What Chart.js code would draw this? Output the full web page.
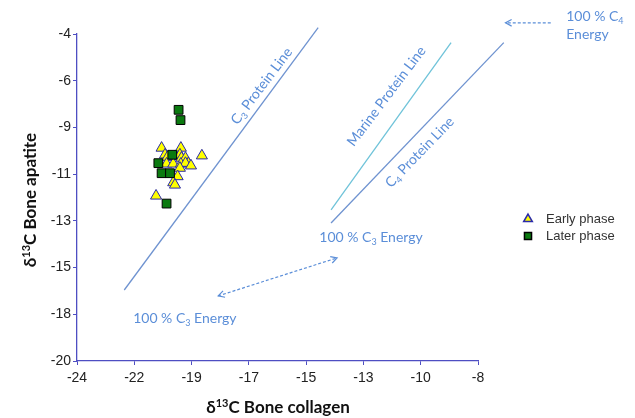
<!DOCTYPE html>
<html>
<head>
<meta charset="utf-8">
<script src="https://cdn.jsdelivr.net/npm/chart.js@4.4.1/dist/chart.umd.min.js"></script>
<style>
  html, body { margin: 0; padding: 0; background: #ffffff; }
  #wrap { width: 635px; height: 418px; }
</style>
</head>
<body>
<div id="wrap"><canvas id="chart" width="635" height="418"></canvas></div>
<script>
// Axis tick labels (the axes are evenly spaced between these labels)
const xTickLabels = [-24, -22, -19, -17, -15, -13, -10, -8];
const yTickLabels = [-20, -18, -15, -13, -11, -9, -6, -4];

// Early phase samples: δ13C collagen (x) and δ13C apatite (y)
const earlyX = [-20.57, -19.56, -18.64, -20.39, -20.26, -19.87, -19.61, -19.53, -19.32, -19.17,
                -20.31, -19.96, -19.56, -19.32, -19.03, -19.61, -19.73, -19.96, -19.87, -20.86];
const earlyY = [-9.88, -9.88, -10.21, -10.17, -10.27, -10.24, -10.17, -10.31, -10.31, -10.54,
                -10.56, -10.56, -10.56, -10.53, -10.64, -10.74, -11.10, -11.36, -11.46, -11.93];

// Later phase samples
const laterX = [-19.68, -19.58, -20.01, -20.74, -20.57, -20.13, -20.31];
const laterY = [-7.87, -8.53, -10.17, -10.53, -10.96, -10.96, -12.26];

// Reference diet lines (end points)
const c3LineX = [-22.35, -14.58];
const c3LineY = [-16.44, -3.73];
const marineLineX = [-14.13, -8.94];
const marineLineY = [-12.53, -4.37];
const c4LineX = [-14.13, -7.10];
const c4LineY = [-13.09, -4.37];

// Map a labelled value onto the evenly spaced axis position (piecewise between labels)
function toPos(v, labels) {
  const n = labels.length;
  let i = 0;
  if (v <= labels[0]) i = 0;
  else if (v >= labels[n - 1]) i = n - 2;
  else { while (!(v >= labels[i] && v <= labels[i + 1])) i++; }
  return i + (v - labels[i]) / (labels[i + 1] - labels[i]);
}
function points(xs, ys) {
  return xs.map((x, k) => ({ x: toPos(x, xTickLabels), y: toPos(ys[k], yTickLabels) }));
}

const AXIS_COLOR = '#4e4ec2';
const NOTE_COLOR = '#5b8ed8';
const NOTE_FAMILY = 'Lato, "Open Sans", sans-serif';

// Draw a run of text pieces, some sub- or superscripted
function drawRich(ctx, parts, x, y, size, weight, family, align) {
  const fontFor = (p) => `${weight} ${p.sub || p.sup ? Math.round(size * 0.62) : size}px ${family}`;
  let total = 0;
  parts.forEach(p => { ctx.font = fontFor(p); total += ctx.measureText(p.t).width; });
  let cx = align === 'center' ? x - total / 2 : x;
  ctx.textBaseline = 'alphabetic';
  ctx.textAlign = 'left';
  parts.forEach(p => {
    ctx.font = fontFor(p);
    let dy = 0;
    if (p.sub) dy = size * 0.2;
    if (p.sup) dy = -size * 0.38;
    ctx.fillText(p.t, cx, y + dy);
    cx += ctx.measureText(p.t).width;
  });
}

function dashedArrow(ctx, x1, y1, x2, y2, heads) {
  ctx.save();
  ctx.strokeStyle = NOTE_COLOR;
  ctx.lineWidth = 1.2;
  ctx.setLineDash([3, 2]);
  ctx.beginPath(); ctx.moveTo(x1, y1); ctx.lineTo(x2, y2); ctx.stroke();
  ctx.setLineDash([]);
  const head = (hx, hy, fx, fy) => {
    const a = Math.atan2(hy - fy, hx - fx);
    const L = 7, w = 0.5;
    ctx.beginPath();
    ctx.moveTo(hx - L * Math.cos(a - w), hy - L * Math.sin(a - w));
    ctx.lineTo(hx, hy);
    ctx.lineTo(hx - L * Math.cos(a + w), hy - L * Math.sin(a + w));
    ctx.stroke();
  };
  if (heads.start) head(x1, y1, x2, y2);
  if (heads.end) head(x2, y2, x1, y1);
  ctx.restore();
}

const decorations = {
  id: 'decorations',
  afterDraw(chart) {
    const ctx = chart.ctx;
    const xs = chart.scales.x, ys = chart.scales.y;
    const px = v => xs.getPixelForValue(v);
    const py = v => ys.getPixelForValue(v);

    // Axis titles
    ctx.save();
    ctx.fillStyle = '#111';
    drawRich(ctx, [{ t: 'δ' }, { t: '13', sup: true }, { t: 'C Bone collagen' }],
      278, 413, 17, 'bold', NOTE_FAMILY, 'center');
    ctx.translate(36, 200);
    ctx.rotate(-Math.PI / 2);
    drawRich(ctx, [{ t: 'δ' }, { t: '13', sup: true }, { t: 'C Bone apatite' }],
      0, 0, 17, 'bold', NOTE_FAMILY, 'center');
    ctx.restore();

    // Line labels
    ctx.save();
    ctx.fillStyle = NOTE_COLOR;
    const rotLabel = (parts, cx, cy, deg) => {
      ctx.save();
      ctx.translate(cx, cy);
      ctx.rotate(-deg * Math.PI / 180);
      drawRich(ctx, parts, 0, 4, 14, 'normal', NOTE_FAMILY, 'center');
      ctx.restore();
    };
    rotLabel([{ t: 'C' }, { t: '3', sub: true }, { t: ' Protein Line' }], px(3.23), py(5.88), 53);
    rotLabel([{ t: 'Marine Protein Line' }], px(5.41), py(5.66), 53);
    rotLabel([{ t: 'C' }, { t: '4', sub: true }, { t: ' Protein Line' }], px(5.99), py(4.46), 46);

    // Energy end-point notes
    drawRich(ctx, [{ t: '100 % C' }, { t: '3', sub: true }, { t: ' Energy' }],
      px(4.23), py(2.657) + 5, 14, 'normal', NOTE_FAMILY, 'left');
    drawRich(ctx, [{ t: '100 % C' }, { t: '3', sub: true }, { t: ' Energy' }],
      px(0.98), py(0.921) + 5, 14, 'normal', NOTE_FAMILY, 'left');
    drawRich(ctx, [{ t: '100 % C' }, { t: '4', sub: true }],
      px(8.54), py(7.39) + 5, 14, 'normal', NOTE_FAMILY, 'left');
    drawRich(ctx, [{ t: 'Energy' }],
      px(8.54), py(6.99) + 5, 14, 'normal', NOTE_FAMILY, 'left');
    ctx.restore();

    dashedArrow(ctx, px(8.27), py(7.24), px(7.48), py(7.24), { end: true });
    dashedArrow(ctx, px(2.465), py(1.393), px(4.54), py(2.207), { start: true, end: true });

    // Legend
    ctx.save();
    const items = [
      { label: 'Early phase', ds: chart.data.datasets[3] },
      { label: 'Later phase', ds: chart.data.datasets[4] }
    ];
    items.forEach((it, k) => {
      const y = 219 + k * 17;
      ctx.fillStyle = it.ds.backgroundColor;
      ctx.strokeStyle = it.ds.borderColor;
      ctx.lineWidth = 1.5;
      Chart.helpers.drawPoint(ctx, { pointStyle: it.ds.pointStyle, radius: 5, borderWidth: 1.5 }, 528, y);
      ctx.fillStyle = '#333';
      ctx.font = '13px "Liberation Sans", Arial, sans-serif';
      ctx.textBaseline = 'middle';
      ctx.textAlign = 'left';
      ctx.fillText(it.label, 546, y);
    });
    ctx.restore();
  }
};

const lineStyle = (pts, color) => ({
  type: 'line',
  data: pts,
  showLine: true,
  borderColor: color,
  borderWidth: 1.3,
  pointRadius: 0,
  fill: false,
  clip: false,
  order: 3
});

new Chart(document.getElementById('chart'), {
  type: 'scatter',
  data: {
    datasets: [
      lineStyle(points(c3LineX, c3LineY), '#6f93d0'),
      lineStyle(points(marineLineX, marineLineY), '#6fc3d9'),
      lineStyle(points(c4LineX, c4LineY), '#6f93d0'),
      {
        label: 'Early phase',
        data: points(earlyX, earlyY),
        pointStyle: 'triangle',
        pointRadius: 6.4,
        backgroundColor: '#ffff00',
        borderColor: '#2a2aa8',
        borderWidth: 1,
        clip: false,
        order: 2
      },
      {
        label: 'Later phase',
        data: points(laterX, laterY),
        pointStyle: 'rect',
        pointRadius: 6.2,
        backgroundColor: '#0b7a10',
        borderColor: '#000000',
        borderWidth: 1,
        clip: false,
        order: 1
      }
    ]
  },
  options: {
    responsive: false,
    animation: false,
    devicePixelRatio: 1,
    layout: { padding: { left: 0, right: 157, top: 34, bottom: 0 } },
    plugins: { legend: { display: false }, tooltip: { enabled: false } },
    scales: {
      x: {
        type: 'linear', min: 0, max: 7,
        afterFit: s => { s.height = 57; },
        grid: { drawOnChartArea: false, drawTicks: true, tickLength: 4, color: AXIS_COLOR },
        border: { color: AXIS_COLOR, width: 1.3 },
        ticks: {
          stepSize: 1, autoSkip: false, maxRotation: 0, padding: 5,
          color: '#222', font: { family: '"Liberation Sans", Arial, sans-serif', size: 14 },
          callback: v => xTickLabels[v]
        }
      },
      y: {
        type: 'linear', min: 0, max: 7,
        afterFit: s => { s.width = 77; },
        grid: { drawOnChartArea: false, drawTicks: true, tickLength: 4, color: AXIS_COLOR },
        border: { color: AXIS_COLOR, width: 1.3 },
        ticks: {
          stepSize: 1, autoSkip: false, padding: 2,
          color: '#222', font: { family: '"Liberation Sans", Arial, sans-serif', size: 14 },
          callback: v => yTickLabels[v]
        }
      }
    }
  },
  plugins: [decorations]
});
</script>
</body>
</html>
